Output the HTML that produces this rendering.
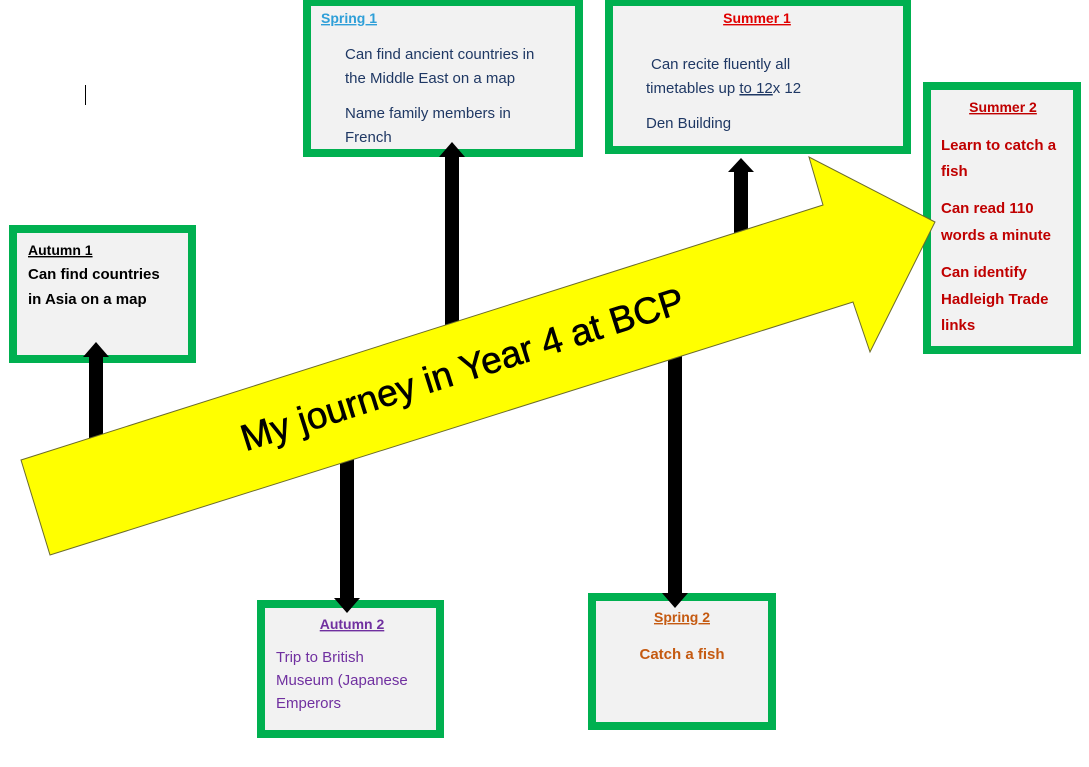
<!DOCTYPE html>
<html><head><meta charset="utf-8"><style>
html,body{margin:0;padding:0;background:#fff;}
svg{display:block;font-family:"Liberation Sans",sans-serif;}
</style></head><body>
<svg width="1089" height="767" viewBox="0 0 1089 767" xmlns="http://www.w3.org/2000/svg">
<line x1="85.5" y1="85" x2="85.5" y2="105" stroke="#000" stroke-width="1"/>
<g fill="#f2f2f2" stroke="#00b050" stroke-width="8">
<rect x="13" y="229" width="179" height="130"/>
<rect x="307" y="2" width="272" height="151"/>
<rect x="609" y="2" width="298" height="148"/>
<rect x="927" y="86" width="150" height="264"/>
<rect x="261" y="604" width="179" height="130"/>
<rect x="592" y="597" width="180" height="129"/>
</g>
<g fill="#000">
<rect x="89" y="355" width="14" height="85"/><polygon points="83,357 96,342 109,357"/>
<rect x="445" y="155" width="14" height="170"/><polygon points="439,157 452,142 465,157"/>
<rect x="734" y="170" width="14" height="65"/><polygon points="728,172 741,158 754,172"/>
<rect x="340" y="455" width="14" height="145"/><polygon points="334,598 347,613 360,598"/>
<rect x="668" y="350" width="14" height="245"/><polygon points="662,593 675,608 688,593"/>
</g>
<polygon points="21,460 823,205 809,157 935,222 870,352 853,302 50,555" fill="#ffff00" stroke="#6b6b2a" stroke-width="1"/>
<text x="462" y="382" font-size="37" text-anchor="middle" transform="rotate(-17.6 462 368)" fill="#000" stroke="#000" stroke-width="0.6">My journey in Year 4 at BCP</text>
<g font-size="15">
<text x="28" y="255" font-weight="bold" font-size="14" text-decoration="underline">Autumn 1</text>
<text x="28" y="279" font-weight="bold">Can find countries</text>
<text x="28" y="304" font-weight="bold">in Asia on a map</text>
<text x="321" y="23" font-weight="bold" font-size="14" fill="#2e9fd8" text-decoration="underline">Spring 1</text>
<g fill="#1f3864"><text x="345" y="59">Can find ancient countries in</text>
<text x="345" y="83">the Middle East on a map</text>
<text x="345" y="118">Name family members in</text>
<text x="345" y="142">French</text>
<text x="651" y="69">Can recite fluently all</text>
<text x="646" y="93">timetables up <tspan text-decoration="underline">to  12</tspan>x 12</text>
<text x="646" y="128">Den Building</text></g>
<text x="757" y="23" font-weight="bold" font-size="14" fill="#e00000" text-anchor="middle" text-decoration="underline">Summer 1</text>
<g fill="#c00000" font-weight="bold"><text x="1003" y="112" font-size="14" text-anchor="middle" text-decoration="underline">Summer 2</text>
<text x="941" y="150">Learn to catch a</text><text x="941" y="176">fish</text>
<text x="941" y="213">Can read 110</text><text x="941" y="240">words a minute</text>
<text x="941" y="277">Can identify</text><text x="941" y="304">Hadleigh Trade</text><text x="941" y="330">links</text></g>
<g fill="#7030a0"><text x="352" y="629" font-weight="bold" font-size="14" text-anchor="middle" text-decoration="underline">Autumn 2</text>
<text x="276" y="662">Trip to British</text><text x="276" y="685">Museum (Japanese</text><text x="276" y="708">Emperors</text></g>
<g fill="#c55a11" font-weight="bold"><text x="682" y="622" font-size="14" text-anchor="middle" text-decoration="underline">Spring 2</text>
<text x="682" y="659" text-anchor="middle">Catch a fish</text></g>
</g>
</svg>
</body></html>
